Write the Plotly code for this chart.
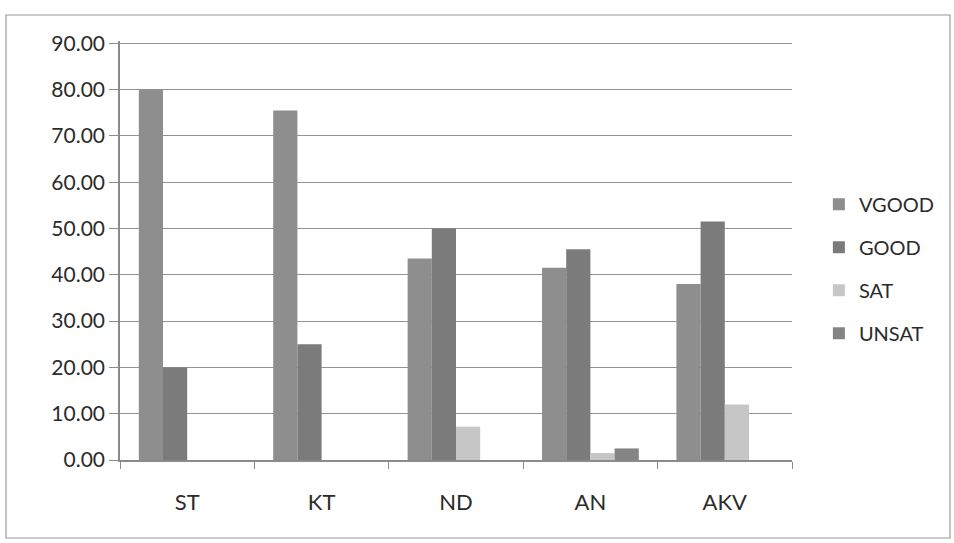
import plotly.graph_objects as go

categories = ["ST", "KT", "ND", "AN", "AKV"]
vgood = [80.0, 75.5, 43.5, 41.5, 38.0]
good = [20.0, 25.0, 50.0, 45.5, 51.5]
sat = [0.0, 0.0, 7.2, 1.5, 12.0]
unsat = [0.0, 0.0, 0.0, 2.5, 0.0]

series_names = ["VGOOD", "GOOD", "SAT", "UNSAT"]
series_values = [vgood, good, sat, unsat]
colors = ["#8e8e8e", "#7b7b7b", "#c6c6c6", "#848484"]

FONT = "Lato, 'Open Sans', sans-serif"
TXT = "#2b2b2b"

fig = go.Figure()
for name, vals, col in zip(series_names, series_values, colors):
    fig.add_trace(go.Bar(
        x=categories, y=vals, name=name, legendgroup=name,
        marker=dict(color=col, line=dict(width=0)),
    ))

# plot area: x 120..792, y 41..460
pw, ph = 672, 419
fig.update_layout(
    width=954, height=543,
    margin=dict(l=120, r=162, t=41, b=83),
    paper_bgcolor="white", plot_bgcolor="white",
    barmode="group", bargap=0.28, bargroupgap=0,
    font=dict(family=FONT, size=20, color=TXT),
    legend=dict(
        x=1.040, y=0.657, xanchor="left", yanchor="top",
        font=dict(family=FONT, size=20, color=TXT),
        tracegroupgap=14, itemwidth=30,
        bgcolor="rgba(0,0,0,0)",
    ),
    xaxis=dict(
        showline=True, linecolor="#8a8a8a", linewidth=1.5,
        ticks="outside", tickson="boundaries", ticklen=7, tickcolor="#8a8a8a",
        tickfont=dict(family=FONT, size=22, color=TXT),
        ticklabelstandoff=22,
        showgrid=False,
    ),
    yaxis=dict(
        range=[0, 90.5], dtick=10, tickformat=".2f",
        showline=True, linecolor="#8a8a8a", linewidth=1.5,
        ticks="outside", ticklen=9, tickcolor="#8a8a8a",
        showgrid=True, gridcolor="#939393", gridwidth=1.2,
        tickfont=dict(family=FONT, size=21, color=TXT),
        zeroline=False,
    ),
    shapes=[dict(
        type="rect", xref="paper", yref="paper",
        x0=(6 - 120) / pw, x1=(950 - 120) / pw,
        y0=(460 - 538) / ph, y1=(460 - 15) / ph,
        line=dict(color="#9a9a9a", width=1.2), fillcolor="rgba(0,0,0,0)", layer="below",
    )],
)

fig.write_html("out.html", config={"displayModeBar": False},
               post_script="document.body.style.margin='0';document.body.style.padding='0';")
